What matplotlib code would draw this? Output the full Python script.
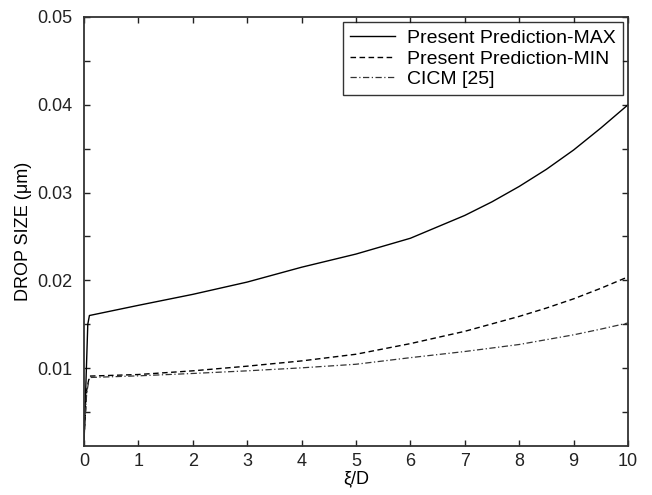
import numpy as np
import matplotlib
matplotlib.use("Agg")
import matplotlib.pyplot as plt

plt.rcParams['font.family'] = ['Liberation Sans', 'DejaVu Sans']

# Non-dimensional axial distance xi/D and predicted drop sizes (micrometres)
x_max = [0.0, 0.07, 0.1, 1.0, 2.0, 3.0, 4.0, 5.0, 6.0, 7.0, 7.5, 8.0, 8.5, 9.0, 9.5, 10.0]
y_max = [0.0013, 0.0150, 0.0160, 0.01716, 0.01841, 0.01981, 0.02150, 0.02300,
         0.02480, 0.02740, 0.02895, 0.03070, 0.03265, 0.03485, 0.03735, 0.04000]

x_min = [0.0, 0.05, 0.1, 1.0, 2.0, 3.0, 4.0, 5.0, 6.0, 7.0, 8.0, 8.5, 9.0, 9.5, 10.0]
y_min = [0.0020, 0.0075, 0.0091, 0.00928, 0.00970, 0.01023, 0.01083, 0.01159,
         0.01280, 0.01420, 0.01590, 0.01685, 0.01790, 0.01910, 0.02040]

x_cicm = [0.0, 0.05, 0.1, 1.0, 2.0, 3.0, 4.0, 5.0, 6.0, 7.0, 8.0, 9.0, 9.5, 10.0]
y_cicm = [0.0020, 0.0072, 0.00894, 0.00913, 0.00940, 0.00970, 0.01004, 0.01045,
          0.01120, 0.01190, 0.01270, 0.01380, 0.01445, 0.01515]

xticks = list(range(0, 11))
yticks = [0.005, 0.01, 0.015, 0.02, 0.025, 0.03, 0.035, 0.04, 0.045, 0.05]
ytick_labels = ['', '0.01', '', '0.02', '', '0.03', '', '0.04', '', '0.05']

fig = plt.figure(figsize=(6.52, 4.95), dpi=100)
ax = fig.add_axes([0.1288, 0.099, 0.8344, 0.8667])

ax.plot(x_max, y_max, color='black', lw=1.0, linestyle='-', label='Present Prediction-MAX')
ax.plot(x_min, y_min, color='black', lw=1.0, linestyle=(0, (4, 2.5)), label='Present Prediction-MIN')
ax.plot(x_cicm, y_cicm, color='#333333', lw=0.9, linestyle=(0, (5, 2, 1, 2)), label='CICM [25]')

ax.set_xlim(0, 10)
ax.set_ylim(0.00114, 0.05)
ax.set_xticks(xticks)
ax.set_xticklabels([str(v) for v in xticks])
ax.set_yticks(yticks)
ax.set_yticklabels(ytick_labels)

ax.tick_params(direction='in', length=4.5, width=1.0, top=True, right=True,
               labelsize=13, colors='#222222')
ax.tick_params(axis='x', pad=5)
ax.tick_params(axis='y', pad=8)
for s in ax.spines.values():
    s.set_linewidth(1.3)
    s.set_color('#333333')

ax.set_xlabel('ξ/D', fontsize=13, labelpad=0)
ax.set_ylabel('DROP SIZE (μm)', fontsize=13, labelpad=4)

leg = ax.legend(loc='upper right', fontsize=14, frameon=True, fancybox=False,
                edgecolor='black', borderpad=0.38, handlelength=2.3, handletextpad=0.6,
                labelspacing=0.15, borderaxespad=0.26)
leg.get_frame().set_linewidth(1.0)

fig.savefig('out.png', dpi=100)
